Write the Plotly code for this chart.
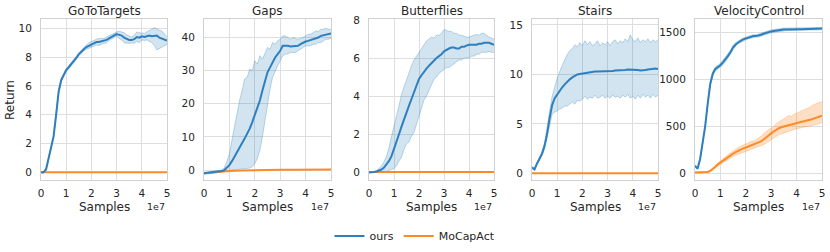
import plotly.graph_objects as go

# ---------------- data ----------------
steps = [i / 10 for i in range(51)]  # in units of 1e7 samples

titles = ["GoToTargets", "Gaps", "Butterflies", "Stairs", "VelocityControl"]
x_ticks = [0, 1, 2, 3, 4, 5]
x_ticklabels = ["0", "1", "2", "3", "4", "5"]

# GoToTargets
ours_goto_mean = [0, 0, 0.2, 0.9, 1.6, 2.5, 4.0, 5.6, 6.4, 6.8, 7.1, 7.3, 7.5, 7.7, 7.95, 8.2, 8.4, 8.55, 8.7, 8.8,
                  8.9, 9.0, 9.05, 9.05, 9.1, 9.1, 9.2, 9.3, 9.4, 9.5, 9.6, 9.55, 9.5, 9.35, 9.25, 9.2, 9.2, 9.25, 9.4, 9.35,
                  9.45, 9.4, 9.45, 9.5, 9.45, 9.5, 9.5, 9.35, 9.3, 9.2, 9.15]
ours_goto_lo = [-0.05, -0.05, 0.1, 0.8, 1.5, 2.4, 3.85, 5.45, 6.3, 6.7, 7.0, 7.2, 7.4, 7.6, 7.85, 8.1, 8.3, 8.45, 8.55, 8.6,
                8.7, 8.75, 8.85, 8.8, 8.9, 8.95, 9.0, 9.15, 9.25, 9.35, 9.45, 9.3, 9.2, 9.0, 8.95, 8.95, 9.0, 8.95, 9.1, 9.0,
                9.2, 9.15, 9.2, 9.1, 9.0, 8.8, 8.5, 8.6, 8.7, 8.8, 8.9]
ours_goto_hi = [0.05, 0.05, 0.3, 1.0, 1.7, 2.6, 4.15, 5.75, 6.5, 6.9, 7.2, 7.4, 7.6, 7.8, 8.05, 8.3, 8.5, 8.65, 8.85, 9.0,
                9.1, 9.2, 9.25, 9.3, 9.3, 9.3, 9.4, 9.5, 9.55, 9.7, 9.75, 9.8, 9.75, 9.7, 9.55, 9.45, 9.4, 9.5, 9.75, 9.7,
                9.7, 9.65, 9.75, 9.85, 9.9, 10.05, 9.95, 9.9, 9.8, 9.6, 9.4]

# Gaps
ours_gaps_mean = [-1.0, -0.9, -0.8, -0.8, -0.7, -0.6, -0.5, -0.3, 0.0, 0.7, 1.5, 2.7, 4.0, 5.5, 6.8, 8.0, 9.5, 11.0, 12.5,
                  14.5, 16.5, 18.5, 21.0, 24.0, 27.0, 29.5, 31.0, 32.5, 34.0, 35.0, 36.0, 37.5, 37.6, 37.5, 37.3, 37.3,
                  37.4, 37.5, 38.0, 38.5, 38.8, 39.0, 39.2, 39.5, 39.8, 40.0, 40.5, 40.7, 41.0, 41.1, 41.2]
ours_gaps_lo = [-1.3, -1.2, -1.1, -1.1, -1.0, -0.9, -0.8, -0.6, -0.3, -0.2, -0.1, 0.0, 0.0, 0.0, 0.1, 0.2, 0.3, 0.4, 0.6,
                1.0, 2.0, 3.5, 6.0, 10.0, 15.0, 20.0, 24.5, 28.0, 30.0, 31.5, 33.0, 34.5, 35.0, 35.0, 35.5, 35.5, 35.5,
                36.0, 36.5, 37.0, 37.5, 37.5, 37.5, 38.0, 38.0, 38.5, 38.5, 39.0, 39.5, 39.5, 39.8]
ours_gaps_hi = [-0.7, -0.6, -0.5, -0.5, -0.4, -0.3, -0.2, 0.0, 0.8, 2.5, 5.0, 9.0, 14.0, 17.0, 21.0, 24.0, 27.5, 28.0,
                30.5, 30.0, 33.0, 32.0, 34.5, 33.5, 35.5, 37.0, 36.5, 38.5, 38.0, 39.0, 39.5, 40.5, 40.5, 40.0, 39.5,
                40.0, 39.8, 39.5, 39.8, 40.0, 40.5, 41.0, 41.0, 41.5, 42.0, 41.8, 42.5, 42.5, 42.8, 42.5, 42.5]

# Butterflies
ours_bfly_mean = [0.0, 0.0, 0.02, 0.05, 0.1, 0.15, 0.25, 0.4, 0.6, 0.85, 1.2, 1.6, 2.0, 2.4, 2.8, 3.15, 3.5, 3.85, 4.2,
                  4.55, 4.9, 5.1, 5.3, 5.45, 5.6, 5.75, 5.9, 6.0, 6.1, 6.2, 6.35, 6.45, 6.5, 6.55, 6.55, 6.5, 6.5, 6.6,
                  6.6, 6.65, 6.7, 6.7, 6.7, 6.7, 6.75, 6.75, 6.8, 6.8, 6.8, 6.75, 6.7]
ours_bfly_lo = [0.0, 0.0, 0.0, 0.0, 0.0, 0.02, 0.03, 0.05, 0.08, 0.15, 0.2, 0.35, 0.6, 0.8, 1.2, 1.5, 1.6, 1.9, 2.1, 2.5,
                3.0, 3.4, 3.8, 4.0, 4.3, 4.6, 4.9, 5.0, 5.2, 5.3, 5.4, 5.5, 5.5, 5.6, 5.7, 5.8, 5.9, 5.9, 6.0, 6.0, 6.0,
                6.1, 6.1, 6.2, 6.2, 6.3, 6.3, 6.3, 6.35, 6.3, 6.3]
ours_bfly_hi = [0.0, 0.02, 0.05, 0.1, 0.2, 0.35, 0.55, 0.85, 1.3, 1.9, 2.4, 3.0, 3.5, 4.1, 4.5, 4.9, 5.3, 5.6, 5.9, 6.1,
                6.3, 6.5, 6.7, 6.9, 7.0, 7.1, 7.05, 7.2, 7.2, 7.3, 7.5, 7.45, 7.4, 7.4, 7.3, 7.3, 7.2, 7.2, 7.15, 7.1,
                7.1, 7.15, 7.2, 7.25, 7.2, 7.3, 7.3, 7.2, 7.1, 7.05, 7.0]

# Stairs
ours_stairs_mean = [0.6, 0.4, 1.0, 1.5, 2.0, 2.8, 4.0, 5.6, 6.9, 7.6, 8.0, 8.4, 8.7, 9.0, 9.3, 9.5, 9.7, 9.85, 10.0,
                    10.05, 10.1, 10.15, 10.2, 10.25, 10.3, 10.3, 10.3, 10.3, 10.3, 10.3, 10.3, 10.35, 10.35, 10.4, 10.4,
                    10.4, 10.45, 10.45, 10.5, 10.5, 10.5, 10.45, 10.45, 10.4, 10.4, 10.45, 10.5, 10.55, 10.6, 10.6, 10.55]
ours_stairs_lo = [0.5, 0.3, 0.9, 1.4, 1.8, 2.5, 3.6, 5.0, 6.0, 6.2, 6.3, 6.5, 6.6, 6.8, 6.8, 7.0, 7.2, 7.0, 7.4, 7.3, 7.5,
                  7.8, 7.5, 7.7, 7.6, 7.9, 7.6, 7.7, 7.9, 7.6, 7.8, 7.6, 7.9, 7.7, 7.8, 7.6, 7.9, 7.7, 8.0, 7.6, 7.8, 7.5,
                  7.9, 7.6, 8.0, 7.7, 7.9, 7.6, 8.0, 7.7, 7.9]
ours_stairs_hi = [0.7, 0.5, 1.1, 1.6, 2.2, 3.1, 4.5, 6.3, 7.8, 8.8, 9.6, 10.3, 11.0, 11.5, 12.0, 12.4, 12.6, 13.0, 12.8,
                  13.2, 12.9, 13.4, 13.0, 13.3, 12.9, 13.1, 13.4, 12.9, 13.2, 13.0, 13.3, 12.9, 13.3, 13.5, 13.1, 13.4,
                  13.2, 13.6, 13.3, 14.0, 13.5, 13.3, 13.7, 13.2, 13.5, 13.3, 13.6, 13.2, 13.5, 13.3, 13.5]

# VelocityControl
ours_vel_mean = [80, 50, 150, 330, 500, 740, 950, 1060, 1110, 1130, 1150, 1180, 1210, 1250, 1290, 1340, 1370, 1395, 1410,
                 1425, 1435, 1445, 1455, 1460, 1460, 1465, 1475, 1485, 1495, 1505, 1510, 1515, 1520, 1525, 1528, 1530,
                 1530, 1532, 1532, 1533, 1533, 1534, 1534, 1535, 1535, 1536, 1536, 1537, 1538, 1539, 1540]
ours_vel_lo = [70, 40, 135, 315, 485, 720, 930, 1040, 1090, 1110, 1130, 1155, 1185, 1230, 1270, 1320, 1355, 1380, 1395,
               1410, 1420, 1430, 1440, 1445, 1450, 1450, 1460, 1470, 1480, 1490, 1495, 1500, 1505, 1510, 1515, 1518,
               1518, 1520, 1520, 1520, 1520, 1522, 1520, 1523, 1522, 1524, 1522, 1525, 1524, 1526, 1527]
ours_vel_hi = [90, 60, 165, 345, 515, 760, 970, 1080, 1130, 1150, 1170, 1205, 1235, 1275, 1310, 1360, 1390, 1410, 1425,
               1440, 1450, 1460, 1470, 1475, 1475, 1480, 1490, 1500, 1510, 1520, 1525, 1530, 1535, 1540, 1540, 1545,
               1545, 1545, 1545, 1548, 1548, 1548, 1550, 1547, 1550, 1549, 1551, 1550, 1552, 1551, 1553]
mocap_vel_mean = [10, 10, 10, 10, 10, 15, 25, 45, 70, 95, 115, 135, 155, 175, 195, 210, 225, 240, 255, 265, 275, 285, 295,
                  305, 315, 325, 340, 360, 385, 405, 425, 445, 465, 480, 490, 500, 510, 515, 520, 525, 535, 540, 548, 555,
                  560, 568, 575, 585, 595, 605, 612]
mocap_vel_lo = [5, 5, 5, 5, 5, 10, 15, 35, 55, 80, 95, 115, 130, 150, 165, 180, 190, 205, 215, 225, 235, 245, 250, 260, 270,
                280, 290, 305, 320, 340, 360, 380, 395, 410, 420, 430, 440, 450, 460, 465, 475, 480, 485, 490, 495, 500,
                505, 510, 520, 530, 540]
mocap_vel_hi = [15, 15, 15, 15, 15, 20, 35, 55, 85, 110, 135, 160, 180, 200, 220, 240, 255, 275, 290, 300, 310, 325, 340,
                345, 360, 375, 395, 420, 445, 465, 480, 500, 530, 545, 560, 580, 600, 615, 605, 630, 640, 655, 665, 680,
                690, 700, 720, 735, 745, 755, 760]

# MoCapAct in the other tasks (flat)
mocap_steps = [0, 0.5, 1, 1.5, 2, 2.5, 3, 3.5, 4, 4.5, 5]
mocap_goto = [0, 0, 0, 0, 0, 0, 0, 0, 0, 0, 0]
mocap_gaps = [-1.0, -0.6, -0.3, -0.15, 0.0, 0.05, 0.1, 0.12, 0.15, 0.18, 0.2]
mocap_bfly = [0.02, 0.02, 0.02, 0.02, 0.02, 0.02, 0.02, 0.02, 0.02, 0.02, 0.02]
mocap_stairs = [0, 0, 0, 0, 0, 0, 0, 0, 0, 0, 0]

y_ticks = [[0, 2, 4, 6, 8, 10], [0, 10, 20, 30, 40], [0, 2, 4, 6, 8], [0, 5, 10, 15], [0, 500, 1000, 1500]]
y_ranges = [[-0.53, 10.65], [-3.0, 45.6], [-0.4, 8.05], [-0.67, 15.6], [-71, 1642]]

ours = [(ours_goto_mean, ours_goto_lo, ours_goto_hi),
        (ours_gaps_mean, ours_gaps_lo, ours_gaps_hi),
        (ours_bfly_mean, ours_bfly_lo, ours_bfly_hi),
        (ours_stairs_mean, ours_stairs_lo, ours_stairs_hi),
        (ours_vel_mean, ours_vel_lo, ours_vel_hi)]
mocap_flat = [mocap_goto, mocap_gaps, mocap_bfly, mocap_stairs]

# ---------------- figure ----------------
W, H = 830, 252
BLUE = "#2e7fbf"
ORANGE = "#ff8a26"
BLUE_FILL = "rgba(31,119,180,0.2)"
BLUE_EDGE = "rgba(31,119,180,0.4)"
ORANGE_FILL = "rgba(255,127,14,0.25)"
ORANGE_EDGE = "rgba(255,127,14,0.35)"
FONT = "DejaVu Sans"
TXT = "#262626"

x_px = [(41, 167), (204, 331), (369, 494), (532, 658), (695, 822)]
y_top, y_bot = 19, 180

fig = go.Figure()
SCALE = 1e7


def band(fig, xs, lo, hi, fill, edge, ax):
    xs_s = [v * SCALE for v in xs]
    fig.add_trace(go.Scatter(x=xs_s, y=hi, mode="lines", line=dict(color=edge, width=0.7),
                             showlegend=False, hoverinfo="skip", xaxis="x" + ax, yaxis="y" + ax))
    fig.add_trace(go.Scatter(x=xs_s, y=lo, mode="lines", line=dict(color=edge, width=0.7),
                             fill="tonexty", fillcolor=fill, showlegend=False, hoverinfo="skip",
                             xaxis="x" + ax, yaxis="y" + ax))


layout = dict()
annotations = []
for i in range(5):
    ax = "" if i == 0 else str(i + 1)
    m, lo, hi = ours[i]
    band(fig, steps, lo, hi, BLUE_FILL, BLUE_EDGE, ax)
    if i == 4:
        band(fig, steps, mocap_vel_lo, mocap_vel_hi, ORANGE_FILL, ORANGE_EDGE, ax)
        fig.add_trace(go.Scatter(x=[v * SCALE for v in steps], y=mocap_vel_mean, mode="lines",
                                 line=dict(color=ORANGE, width=2), name="MoCapAct", showlegend=False,
                                 xaxis="x" + ax, yaxis="y" + ax))
    else:
        fig.add_trace(go.Scatter(x=[v * SCALE for v in mocap_steps], y=mocap_flat[i], mode="lines",
                                 line=dict(color=ORANGE, width=2), name="MoCapAct", showlegend=False,
                                 xaxis="x" + ax, yaxis="y" + ax))
    fig.add_trace(go.Scatter(x=[v * SCALE for v in steps], y=m, mode="lines",
                             line=dict(color=BLUE, width=2), name="ours", showlegend=False,
                             xaxis="x" + ax, yaxis="y" + ax))

    x0, x1 = x_px[i]
    layout["xaxis" + ax] = dict(
        domain=[x0 / W, x1 / W], range=[0, 5 * SCALE], anchor="y" + ax,
        tickvals=[t * SCALE for t in x_ticks], ticktext=x_ticklabels,
        showgrid=True, gridcolor="#dedede", gridwidth=1, zeroline=False,
        showline=True, linecolor="#d0d0d0", linewidth=1, mirror=True, automargin=False,
        ticks="", ticklabelstandoff=3, tickfont=dict(size=10.5, color=TXT, family=FONT),
    )
    layout["yaxis" + ax] = dict(
        domain=[1 - y_bot / H, 1 - y_top / H], range=y_ranges[i], anchor="x" + ax,
        tickvals=y_ticks[i], showgrid=True, gridcolor="#dedede", gridwidth=1, zeroline=False,
        showline=True, linecolor="#d0d0d0", linewidth=1, mirror=True, automargin=False,
        ticks="", ticklabelstandoff=6, tickfont=dict(size=10.5, color=TXT, family=FONT),
    )
    cx = (x0 + x1) / 2 / W
    annotations.append(dict(text=titles[i], x=cx, y=1 - 11 / H, xref="paper", yref="paper",
                            xanchor="center", yanchor="middle", showarrow=False,
                            font=dict(size=12, color=TXT, family=FONT)))
    annotations.append(dict(text="Samples", x=cx, y=1 - 207 / H, xref="paper", yref="paper",
                            xanchor="center", yanchor="middle", showarrow=False,
                            font=dict(size=12, color=TXT, family=FONT)))
    annotations.append(dict(text="1e7", x=x1 / W, y=1 - 206 / H, xref="paper", yref="paper",
                            xanchor="right", yanchor="middle", showarrow=False,
                            font=dict(size=9.5, color=TXT, family=FONT)))

annotations.append(dict(text="Return", x=10 / W, y=1 - 100 / H, xref="paper", yref="paper",
                        xanchor="center", yanchor="middle", showarrow=False, textangle=-90,
                        font=dict(size=12, color=TXT, family=FONT)))

# legend entries
fig.add_trace(go.Scatter(x=[None], y=[None], mode="lines", line=dict(color=BLUE, width=2), name="ours"))
fig.add_trace(go.Scatter(x=[None], y=[None], mode="lines", line=dict(color=ORANGE, width=2), name="MoCapAct"))

fig.update_layout(
    width=W, height=H, margin=dict(l=0, r=0, t=0, b=0, autoexpand=False),
    paper_bgcolor="white", plot_bgcolor="white",
    font=dict(family=FONT, color=TXT, size=11),
    showlegend=True,
    legend=dict(orientation="h", x=0.5, xanchor="center", y=1 - 236 / H, yanchor="middle",
                traceorder="normal",
                font=dict(size=11, color=TXT, family=FONT), itemwidth=30, bgcolor="rgba(0,0,0,0)"),
    annotations=annotations,
    **layout,
)

fig.write_html("out.html", config={"displayModeBar": False},
               post_script="document.body.style.margin='0px';")
